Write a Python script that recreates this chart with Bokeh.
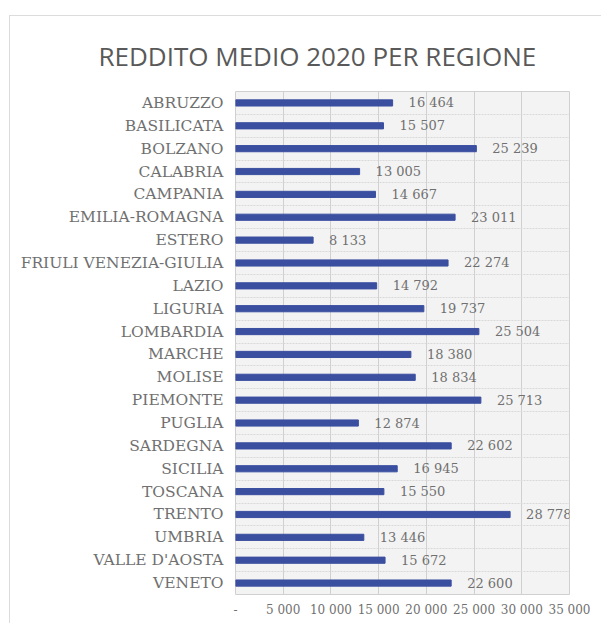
from bokeh.plotting import figure
from bokeh.models import FixedTicker, Range1d, ColumnDataSource
from bokeh.core.properties import value
from bokeh.embed import file_html
from bokeh.resources import INLINE

regions = ["ABRUZZO", "BASILICATA", "BOLZANO", "CALABRIA", "CAMPANIA",
           "EMILIA-ROMAGNA", "ESTERO", "FRIULI VENEZIA-GIULIA", "LAZIO",
           "LIGURIA", "LOMBARDIA", "MARCHE", "MOLISE", "PIEMONTE", "PUGLIA",
           "SARDEGNA", "SICILIA", "TOSCANA", "TRENTO", "UMBRIA",
           "VALLE D'AOSTA", "VENETO"]
income = [16464, 15507, 25239, 13005, 14667, 23011, 8133, 22274, 14792,
          19737, 25504, 18380, 18834, 25713, 12874, 22602, 16945, 15550,
          28778, 13446, 15672, 22600]
x_ticks = [0, 5000, 10000, 15000, 20000, 25000, 30000, 35000]
x_tick_labels = ["-", "5 000", "10 000", "15 000", "20 000", "25 000",
                 "30 000", "35 000"]

n = len(regions)
pos = list(range(n))
labels = [f"{v:,}".replace(",", " ") for v in income]
src = ColumnDataSource(dict(y=pos, v=income, lab=labels))

GRAY = "#595959"
LGRAY = "#707070"
SERIF = "DejaVu Serif"

p = figure(width=592, height=608, output_backend="svg", toolbar_location=None,
           x_range=Range1d(0, 35000), y_range=Range1d(n - 0.5, -0.5),
           min_border_left=225, min_border_right=33, min_border_top=75,
           min_border_bottom=30,
           title="REDDITO MEDIO 2020 PER REGIONE",
           margin=(15, 0, 0, 9))
p.styles = {"border-top": "1px solid #dcdcdc", "border-left": "1px solid #dcdcdc"}

p.title.align = "left"
p.title.offset = -137
p.title.text_font = "Open Sans"
p.title.text_font_style = "normal"
p.title.text_font_size = "26px"
p.title.text_color = GRAY
p.title.standoff = 36

p.background_fill_color = "#f3f3f3"
p.outline_line_color = "#d0d0d0"

p.hbar(y="y", left=0, right="v", height=0.27, color="#3b4fa0", source=src)
p.text(x="v", y="y", text="lab", x_offset=16, text_baseline="middle",
       text_font=value(SERIF), text_font_size="13px", text_color=LGRAY,
       source=src)

# axes
p.xaxis.ticker = FixedTicker(ticks=x_ticks)
p.xaxis.major_label_overrides = {t: l for t, l in zip(x_ticks, x_tick_labels)}
p.yaxis.ticker = FixedTicker(ticks=pos)
p.yaxis.major_label_overrides = {i: r for i, r in enumerate(regions)}
for ax in (p.xaxis[0], p.yaxis[0]):
    ax.axis_line_color = None
    ax.major_tick_line_color = None
    ax.minor_tick_line_color = None
    ax.major_label_text_color = LGRAY
    ax.major_label_text_font = SERIF
p.yaxis.major_label_text_font_size = "15.5px"
p.xaxis.major_label_text_font_size = "12px"
p.yaxis.major_label_standoff = 6
p.xaxis.major_label_standoff = 2

p.xgrid.ticker = FixedTicker(ticks=x_ticks)
p.xgrid.grid_line_color = "#d0d0d0"
p.ygrid.ticker = FixedTicker(ticks=[i + 0.5 for i in range(-1, n)])
p.ygrid.grid_line_color = "#d8d8d8"
p.ygrid.grid_line_dash = "2 1"

open("out.html", "w").write(file_html(p, INLINE))
